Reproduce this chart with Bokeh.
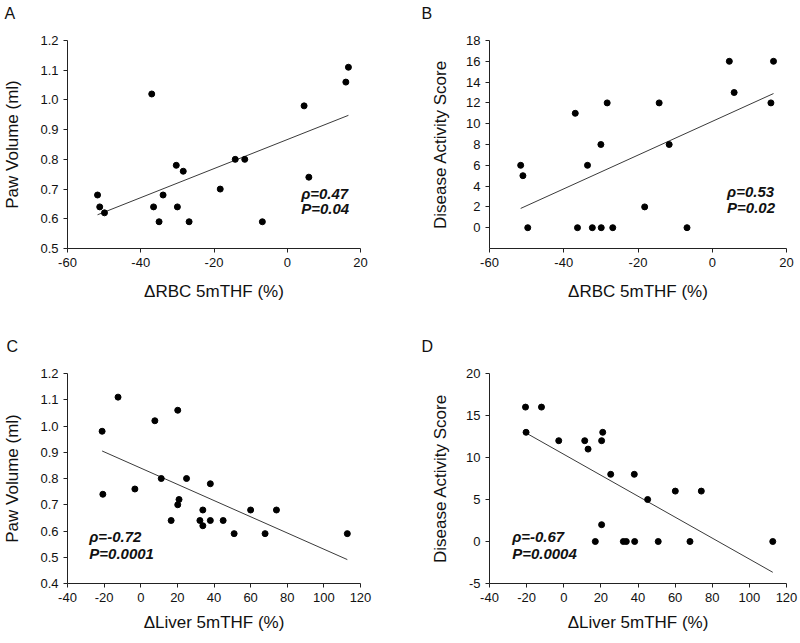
import numpy as np
from bokeh.plotting import figure
from bokeh.models import Range1d, FixedTicker, Label, PrintfTickFormatter, Title
from bokeh.layouts import column, row
from bokeh.embed import file_html
from bokeh.resources import INLINE

# ---- data ----
rbc_a = [-51.8, -51.2, -49.9, -37.0, -36.5, -35.0, -33.9, -30.3, -30.0, -28.4,
         -26.8, -18.3, -14.2, -11.6, -6.8, 4.6, 5.9, 16.0, 16.7]
paw_a = [0.68, 0.64, 0.62, 1.02, 0.64, 0.59, 0.68, 0.78, 0.64, 0.76,
         0.59, 0.70, 0.80, 0.80, 0.59, 0.98, 0.74, 1.06, 1.11]

rbc_b = [-51.6, -51.0, -49.7, -36.9, -36.3, -33.6, -32.3, -30.0, -29.9, -28.3,
         -26.8, -18.2, -14.3, -11.6, -6.8, 4.6, 5.9, 15.8, 16.5]
das_b = [6, 5, 0, 11, 0, 6, 0, 8, 0, 12, 0, 2, 12, 8, 0, 16, 13, 12, 16]

liver_c = [-21.1, -20.7, -12.4, -3.2, 7.7, 11.2, 16.6, 20.2, 20.2, 20.9, 25.0,
           32.3, 33.9, 33.9, 38.0, 38.0, 45.0, 51.0, 60.0, 67.9, 74.1, 112.8]
paw_c = [0.98, 0.74, 1.11, 0.76, 1.02, 0.80, 0.64, 1.06, 0.70, 0.72, 0.80,
         0.64, 0.68, 0.62, 0.78, 0.64, 0.64, 0.59, 0.68, 0.59, 0.68, 0.59]

liver_d = [-20.6, -20.3, -12.0, -2.7, 11.3, 13.1, 17.0, 20.4, 21.0, 20.4, 25.3,
           32.1, 33.7, 38.0, 38.2, 45.2, 50.9, 60.1, 68.0, 74.1, 112.6]
das_d = [16, 13, 16, 12, 12, 11, 0, 12, 13, 2, 8, 0, 0, 8, 0, 5, 0, 6, 0, 6, 0]

ticks_rbc = [-60, -40, -20, 0, 20]
ticks_liver = [-40, -20, 0, 20, 40, 60, 80, 100, 120]
ticks_paw_a = [0.5, 0.6, 0.7, 0.8, 0.9, 1.0, 1.1, 1.2]
ticks_das_b = [0, 2, 4, 6, 8, 10, 12, 14, 16, 18]
ticks_paw_c = [0.4, 0.5, 0.6, 0.7, 0.8, 0.9, 1.0, 1.1, 1.2]
ticks_das_d = [-5, 0, 5, 10, 15, 20]

stats = {"A": ("ρ=0.47", "P=0.04"), "B": ("ρ=0.53", "P=0.02"),
         "C": ("ρ=-0.72", "P=0.0001"), "D": ("ρ=-0.67", "P=0.0004")}

FONT = "Liberation Sans"
INK = "#111111"


def panel(xs, ys, xr, yr, xticks, yticks, yfmt, xlabel, ylabel, letter,
          tpos, w, h, bl, br, bt, bb, ylab_standoff, xlab_standoff, lpos):
    cx, cy = lpos
    p = figure(width=w, height=h, x_range=Range1d(*xr), y_range=Range1d(*yr),
               output_backend="svg", toolbar_location=None,
               min_border_left=bl, min_border_right=br,
               min_border_top=bt, min_border_bottom=bb)
    # panel letter; the trailing empty line lifts it towards the top edge
    p.title = Title(text=letter + "\n", align="left", vertical_align="top",
                    offset=cx - bl, standoff=cy, text_font=FONT,
                    text_font_size="16px", text_font_style="normal",
                    text_color=INK)
    p.outline_line_color = None
    p.grid.visible = False
    p.background_fill_color = "white"
    p.border_fill_color = "white"
    p.xaxis.ticker = FixedTicker(ticks=xticks)
    p.yaxis.ticker = FixedTicker(ticks=yticks)
    p.xaxis.formatter = PrintfTickFormatter(format="%d")
    p.yaxis.formatter = PrintfTickFormatter(format=yfmt)
    for ax in (p.xaxis[0], p.yaxis[0]):
        ax.axis_line_color = "#222222"
        ax.axis_line_width = 1
        ax.major_tick_line_color = "#222222"
        ax.minor_tick_line_color = None
        ax.major_tick_out = 4
        ax.major_tick_in = 0
        ax.major_label_standoff = 5
        ax.major_label_text_font = FONT
        ax.major_label_text_font_size = "13px"
        ax.major_label_text_color = INK
        ax.axis_label_text_font = FONT
        ax.axis_label_text_font_size = "17px"
        ax.axis_label_text_font_style = "normal"
        ax.axis_label_text_color = INK
    p.xaxis.axis_label = xlabel
    p.yaxis.axis_label = ylabel
    p.yaxis.axis_label_standoff = ylab_standoff
    p.xaxis.axis_label_standoff = xlab_standoff

    coef = np.polyfit(xs, ys, 1)
    xl = np.array([min(xs), max(xs)])
    p.line(xl, np.polyval(coef, xl), line_color="#3a3a3a", line_width=1)
    p.scatter(xs, ys, size=6, marker="circle", fill_color="black", line_color="black")

    t1, t2 = stats[letter]
    tx, ty1, ty2 = tpos
    for t, ty in ((t1, ty1), (t2, ty2)):
        p.add_layout(Label(x=tx, y=ty, text=t, text_font=FONT, text_font_size="15px",
                           text_font_style="bold italic", text_color=INK,
                           text_baseline="alphabetic", text_align="left"))
    return p


pa = panel(rbc_a, paw_a, (-60, 20), (0.5, 1.2), ticks_rbc, ticks_paw_a, "%.1f",
           "ΔRBC 5mTHF (%)", "Paw Volume (ml)", "A", (3.8, 0.686, 0.636),
           400, 320, 64, 40, 40, 72, 15, 12, (1, 0))
pb = panel(rbc_b, das_b, (-60, 20), (-2, 18), ticks_rbc, ticks_das_b, "%d",
           "ΔRBC 5mTHF (%)", "Disease Activity Score", "B", (4.0, 3.45, 1.9),
           400, 320, 89, 14, 40, 72, 13, 12, (21, 0))
pc = panel(liver_c, paw_c, (-40, 120), (0.4, 1.2), ticks_liver, ticks_paw_c, "%.1f",
           "ΔLiver 5mTHF (%)", "Paw Volume (ml)", "C", (-28.1, 0.579, 0.516),
           400, 323, 64, 40, 53, 60, 15, 8, (3, 0))
pd_ = panel(liver_d, das_d, (-40, 120), (-5, 20), ticks_liver, ticks_das_d, "%d",
            "ΔLiver 5mTHF (%)", "Disease Activity Score", "D", (-27.8, 0.59, -1.38),
            400, 323, 89, 14, 53, 60, 13, 8, (21, 0))

layout = column(row(pa, pb), row(pc, pd_))
open("out.html", "w").write(file_html(layout, INLINE))
